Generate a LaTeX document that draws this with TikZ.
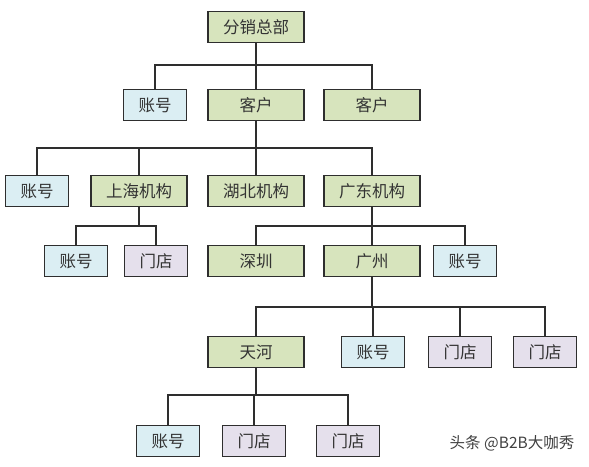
\documentclass[tikz,border=0pt]{standalone}
\usepackage{fontspec}
\setmainfont{Noto Sans CJK SC}
\usepackage{tikz}
\definecolor{boxgreen}{HTML}{D7E4BD}
\definecolor{boxblue}{HTML}{DBEEF3}
\definecolor{boxpurple}{HTML}{E5E0EC}
\definecolor{edgegray}{HTML}{2E2E2E}

\begin{document}
\begin{tikzpicture}[x=1pt,y=-1pt]
	\tikzstyle{unit}=[rectangle,draw=edgegray,line width=1.6pt,minimum height=31pt,inner sep=0pt,font=\fontsize{16.5}{18}\selectfont,text=black!80]
	\tikzstyle{org}=[unit,fill=boxgreen,minimum width=96pt]
	\tikzstyle{acct}=[unit,fill=boxblue,minimum width=63pt]
	\tikzstyle{shop}=[unit,fill=boxpurple,minimum width=63pt]
	\tikzstyle{link}=[draw=edgegray,line width=1.7pt]
	\useasboundingbox (0,0) rectangle (589,466);
	% level 0 and 1
	\node[org](hq) at (256,27) {分销总部};
	\node[acct](zh1) at (155,105) {账号};
	\node[org](kh1) at (256,105) {客户};
	\node[org](kh2) at (372,105) {客户};
	% level 2
	\node[acct](zh2) at (37,191) {账号};
	\node[org](sh) at (139,191) {上海机构};
	\node[org](hb) at (256,191) {湖北机构};
	\node[org](gd) at (372,191) {广东机构};
	% level 3
	\node[acct](zh3) at (76,261) {账号};
	\node[shop](md1) at (156,261) {门店};
	\node[org](sz) at (256,261) {深圳};
	\node[org](gz) at (372,261) {广州};
	\node[acct](zh4) at (465,261) {账号};
	% level 4
	\node[org](th) at (256,352) {天河};
	\node[acct](zh5) at (373,352) {账号};
	\node[shop](md2) at (460,352) {门店};
	\node[shop](md3) at (545,352) {门店};
	% level 5
	\node[acct](zh6) at (168,441) {账号};
	\node[shop](md4) at (254,441) {门店};
	\node[shop](md5) at (348,441) {门店};
	\node[text=black!75,font=\fontsize{15.5}{17}\selectfont](mark) at (512,443) {头条 @B2B大咖秀};
	% connectors
	\foreach \c in {zh1,kh1,kh2}
		\draw[link] (hq.south) -- ++(0,22) -| (\c.north);
	\foreach \c in {zh2,sh,hb,gd}
		\draw[link] (kh1.south) -- ++(0,27) -| (\c.north);
	\foreach \c in {zh3,md1}
		\draw[link] (sh.south) -- ++(0,19) -| (\c.north);
	\foreach \c in {sz,gz,zh4}
		\draw[link] (gd.south) -- ++(0,19) -| (\c.north);
	\foreach \c in {th,zh5,md2,md3}
		\draw[link] (gz.south) -- ++(0,30) -| (\c.north);
	\foreach \c in {zh6,md4,md5}
		\draw[link] (th.south) -- ++(0,27) -| (\c.north);
\end{tikzpicture}
\end{document}
